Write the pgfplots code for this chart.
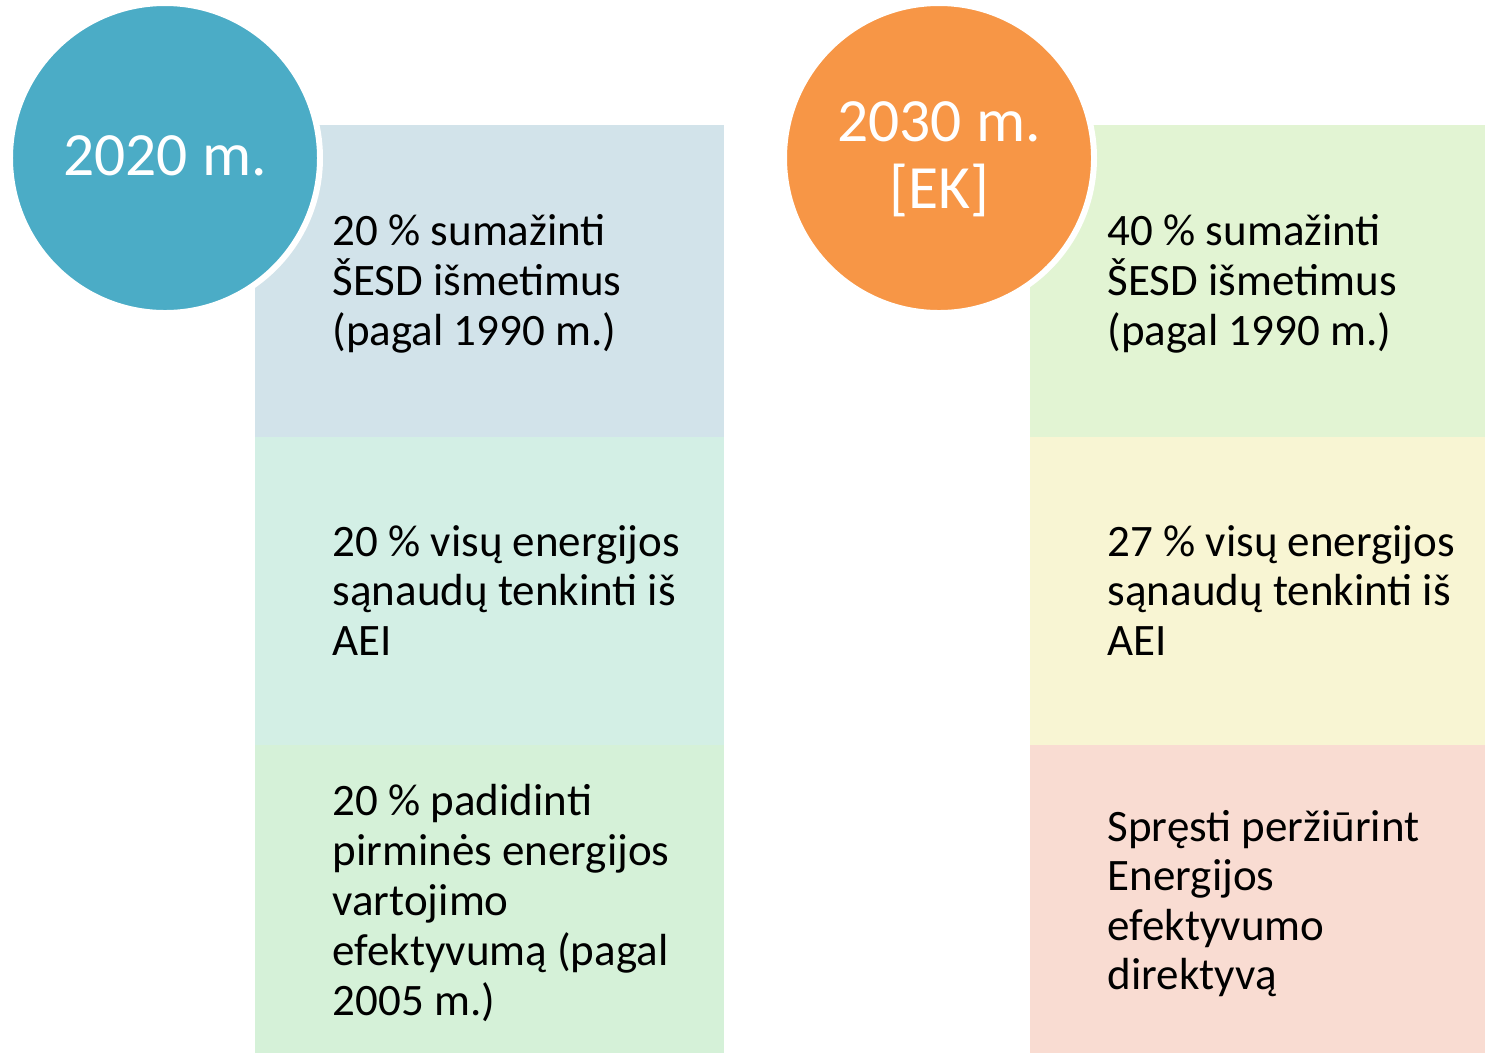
\documentclass[border=0pt]{standalone}
\usepackage{fontspec}
\setmainfont{Carlito}
\usepackage{pgfplots}
\pgfplotsset{compat=1.18}
\definecolor{cblue}{HTML}{4BACC6}
\definecolor{corange}{HTML}{F79646}
\definecolor{lA}{HTML}{D2E3EA}
\definecolor{lB}{HTML}{D3EFE5}
\definecolor{lC}{HTML}{D5F1D8}
\definecolor{rA}{HTML}{E2F4D3}
\definecolor{rB}{HTML}{F8F5D3}
\definecolor{rC}{HTML}{F9DCD2}
\tikzset{txt/.style={inner sep=0pt, anchor=base west, font=\fontsize{12.8}{14}\selectfont},
  ctxt/.style={inner sep=0pt, anchor=base, text=white, font=\fontsize{17.5}{19}\selectfont}}
\begin{document}
\begin{tikzpicture}
\begin{axis}[
  hide axis, scale only axis,
  width=14.85cm, height=10.53cm,
  xmin=0, xmax=1485, ymin=0, ymax=1053, y dir=reverse,
  clip=false,
]
% rectangles
\addplot[fill=lA, draw=none] coordinates {(255,125) (724,125) (724,437) (255,437)} -- cycle;
\addplot[fill=lB, draw=none] coordinates {(255,437) (724,437) (724,745) (255,745)} -- cycle;
\addplot[fill=lC, draw=none] coordinates {(255,745) (724,745) (724,1053) (255,1053)} -- cycle;
\addplot[fill=rA, draw=none] coordinates {(1030,125) (1485,125) (1485,437) (1030,437)} -- cycle;
\addplot[fill=rB, draw=none] coordinates {(1030,437) (1485,437) (1485,745) (1030,745)} -- cycle;
\addplot[fill=rC, draw=none] coordinates {(1030,745) (1485,745) (1485,1053) (1030,1053)} -- cycle;
% circles
\addplot[only marks, mark=*, mark size=44.1pt, mark options={fill=cblue, draw=white, line width=1.7pt}] coordinates {(165,158)};
\addplot[only marks, mark=*, mark size=44.1pt, mark options={fill=corange, draw=white, line width=1.7pt}] coordinates {(939,158)};
\coordinate (c1) at (axis cs:165,176);
\coordinate (c2) at (axis cs:939,142);
\coordinate (c3) at (axis cs:939,209);
\coordinate (bl) at (axis cs:0,1053);
\coordinate (tr) at (axis cs:1485,0);
% left texts
\node[txt] at (axis cs:332,245) {20 \% sumažinti};
\node[txt] at (axis cs:332,295) {ŠESD išmetimus};
\node[txt] at (axis cs:332,345) {(pagal 1990 m.)};
\node[txt] at (axis cs:332,556) {20 \% visų energijos};
\node[txt] at (axis cs:332,605) {sąnaudų tenkinti iš};
\node[txt] at (axis cs:332,655) {AEI};
\node[txt] at (axis cs:332,815) {20 \% padidinti};
\node[txt] at (axis cs:332,865) {pirminės energijos};
\node[txt] at (axis cs:332,915) {vartojimo};
\node[txt] at (axis cs:332,965) {efektyvumą (pagal};
\node[txt] at (axis cs:332,1015) {2005 m.)};
% right texts
\node[txt] at (axis cs:1107,245) {40 \% sumažinti};
\node[txt] at (axis cs:1107,295) {ŠESD išmetimus};
\node[txt] at (axis cs:1107,345) {(pagal 1990 m.)};
\node[txt] at (axis cs:1107,556) {27 \% visų energijos};
\node[txt] at (axis cs:1107,605) {sąnaudų tenkinti iš};
\node[txt] at (axis cs:1107,655) {AEI};
\node[txt] at (axis cs:1107,841) {Spręsti peržiūrint};
\node[txt] at (axis cs:1107,890) {Energijos};
\node[txt] at (axis cs:1107,940) {efektyvumo};
\node[txt] at (axis cs:1107,989) {direktyvą};
\end{axis}
\node[ctxt] at (c1) {2020 m.};
\node[ctxt] at (c2) {2030 m.};
\node[ctxt] at (c3) {[EK]};
\pgfresetboundingbox
\path[use as bounding box] (bl) rectangle (tr);
\end{tikzpicture}
\end{document}
